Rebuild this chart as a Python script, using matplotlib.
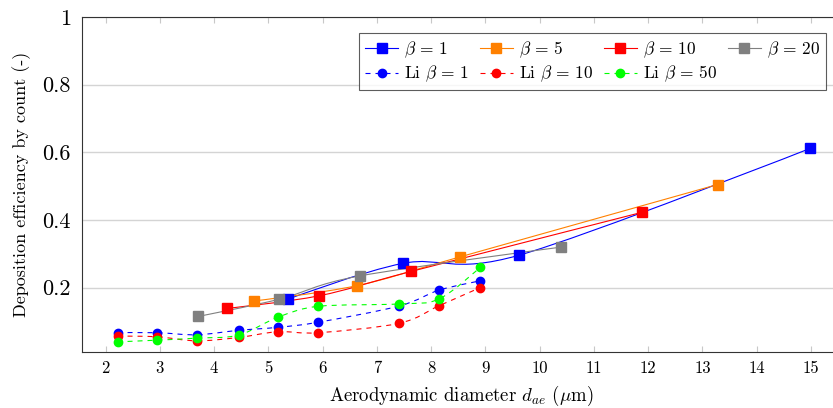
import numpy as np
import matplotlib
matplotlib.use("Agg")
import matplotlib.pyplot as plt
from matplotlib.path import Path
from matplotlib.patches import PathPatch
from matplotlib.lines import Line2D

plt.rcParams['font.family'] = ['cmr10', 'DejaVu Serif']
plt.rcParams['mathtext.fontset'] = 'cm'
plt.rcParams['axes.formatter.use_mathtext'] = True

# simulation series (square markers)
x_b1 = [5.36, 7.48, 9.62, 14.99]
y_b1 = [0.166, 0.272, 0.296, 0.612]
x_b5 = [4.74, 6.63, 8.53, 13.28]
y_b5 = [0.161, 0.206, 0.291, 0.505]
x_b10 = [4.24, 5.93, 7.63, 11.89]
y_b10 = [0.139, 0.176, 0.248, 0.423]
x_b20 = [3.70, 5.20, 6.69, 10.40]
y_b20 = [0.115, 0.166, 0.235, 0.320]

# Li et al. series (circle markers)
x_li = [2.22, 2.95, 3.68, 4.45, 5.18, 5.92, 7.41, 8.15, 8.90]
y_li1 = [0.067, 0.067, 0.061, 0.074, 0.083, 0.098, 0.146, 0.193, 0.220]
y_li10 = [0.057, 0.055, 0.043, 0.053, 0.070, 0.067, 0.095, 0.147, 0.200]
y_li50 = [0.040, 0.045, 0.051, 0.060, 0.113, 0.145, 0.152, 0.167, 0.260]

xticks = list(range(2, 16))
yticks = [0.2, 0.4, 0.6, 0.8, 1.0]
ytick_labels = ['0.2', '0.4', '0.6', '0.8', '1']


def smooth_path(xs, ys, tension=1 / 6):
    # cubic bezier through the points (cardinal spline)
    p = np.column_stack([xs, ys]).astype(float)
    n = len(p)
    verts = [p[0]]
    codes = [Path.MOVETO]
    for i in range(n - 1):
        if i == 0:
            c1 = p[0]
        else:
            c1 = p[i] + tension * (p[i + 1] - p[i - 1])
        if i + 1 == n - 1:
            c2 = p[n - 1]
        else:
            c2 = p[i + 1] - tension * (p[i + 2] - p[i])
        verts += [c1, c2, p[i + 1]]
        codes += [Path.CURVE4] * 3
    return Path(verts, codes)


fig = plt.figure(figsize=(8.33, 4.08), dpi=100)
ax = fig.add_axes([82 / 833, 1 - 352 / 408, (840 - 82) / 833, (352 - 17) / 408])

dash = (0, (4.5, 4.5))
series = [
    (x_b1, y_b1, '#0000ff', '-', 's', r'$\beta\,=\,1$'),
    (x_b5, y_b5, '#ff8000', '-', 's', r'$\beta\,=\,5$'),
    (x_b10, y_b10, '#ff0000', '-', 's', r'$\beta\,=\,10$'),
    (x_b20, y_b20, '#808080', '-', 's', r'$\beta\,=\,20$'),
    (x_li, y_li1, '#0000ff', dash, 'o', r'Li $\beta\,=\,1$'),
    (x_li, y_li10, '#ff0000', dash, 'o', r'Li $\beta\,=\,10$'),
    (x_li, y_li50, '#00ff00', dash, 'o', r'Li $\beta\,=\,50$'),
]

handles = []
for xs, ys, c, ls, mk, lab in series:
    ax.add_patch(PathPatch(smooth_path(xs, ys), facecolor='none', edgecolor=c,
                           lw=0.8, linestyle=ls, zorder=3))
    ms = 6.5 if mk == 's' else 6
    ax.plot(xs, ys, ls='none', marker=mk, color=c, ms=ms, mec=c, zorder=4)
    handles.append(Line2D([], [], color=c, lw=0.8, linestyle=ls,
                          marker=mk, ms=ms, label=lab))

# legend fills column by column: order so rows read left to right
order = [0, 4, 1, 5, 2, 6, 3]
handles = [handles[i] for i in order]

ax.set_xlim(1.565, 15.535)
ax.set_ylim(0.01, 1.0)
ax.set_xticks(xticks)
ax.set_xticklabels([str(t) for t in xticks], fontsize=12)
ax.set_yticks(yticks)
ax.set_yticklabels(ytick_labels, fontsize=16)
ax.tick_params(axis='x', direction='in', top=True, length=4, color='#c8c8c8', pad=6)
ax.tick_params(axis='y', length=0, pad=8)
ax.grid(axis='y', color='#d4d4d4', lw=1)
ax.set_axisbelow(True)
for s in ax.spines.values():
    s.set_linewidth(0.8)
    s.set_color('#333333')

ax.set_xlabel(r'Aerodynamic diameter $d_{ae}$ ($\mu$m)', fontsize=13.5, labelpad=6)
ax.set_ylabel('Deposition efficiency by count (-)', fontsize=13, labelpad=8)

leg = ax.legend(handles=handles, ncol=4, loc='upper right',
                bbox_to_anchor=(826 / 833, 1 - 33 / 408), bbox_transform=fig.transFigure,
                borderaxespad=0, fontsize=12.5, frameon=True, fancybox=False,
                handlelength=1.9, handletextpad=0.35, columnspacing=0.6,
                labelspacing=0.25, borderpad=0.35)
leg.get_frame().set_edgecolor('#333333')
leg.get_frame().set_linewidth(0.8)

fig.savefig('out.png', dpi=100)
